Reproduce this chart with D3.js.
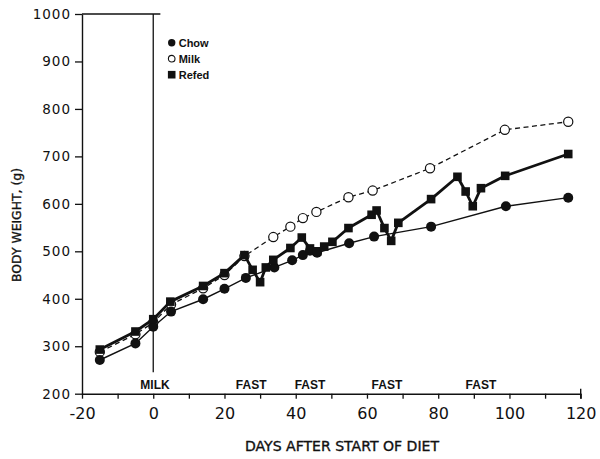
<!DOCTYPE html>
<html>
<head>
<meta charset="utf-8">
<script src="https://cdn.jsdelivr.net/npm/d3@7"></script>
<style>
  html, body { margin: 0; padding: 0; background: #fff; }
  svg { display: block; }
</style>
</head>
<body>
<svg id="chart" width="600" height="459"></svg>
<script>
// ---- data ----
const chowDays   = [-15, -5, 0, 5, 14, 20, 26, 34, 39, 42, 44, 46, 55, 62, 78, 99, 116.5];
const chowValues = [271, 306, 341, 373, 399, 421, 444, 466, 481, 492, 501, 497, 517, 531, 552, 595, 613];

const milkDays   = [-15, -5, 0, 5, 14, 20, 25.6, 33.7, 38.5, 42, 45.8, 54.8, 61.6, 77.7, 98.7, 116.5];
const milkValues = [288, 325, 350, 388, 422, 450, 490, 530, 552, 570, 583, 614, 628, 675, 756, 773];

const refedDays   = [-15, -5, 0, 4.8, 14, 20, 25.6, 27.9, 30, 31.6, 33.7, 38.5, 41.7, 44, 46, 48, 50.3, 54.8, 61.3, 62.7, 64.9, 66.8, 68.8, 78, 85.4, 87.7, 89.7, 92, 98.8, 116.5];
const refedValues = [293, 331, 357, 394, 427, 454, 492, 461, 435, 466, 482, 507, 529, 506, 500, 510, 520, 549, 577, 586, 549, 522, 560, 610, 657, 626, 595, 633, 659, 705];

const xTicks = [-20, -10, 0, 10, 20, 30, 40, 50, 60, 70, 80, 90, 100, 110, 120];
const xTickLabels = ["-20", "", "0", "", "20", "", "40", "", "60", "", "80", "", "100", "", "120"];
const yTicks = [200, 300, 400, 500, 600, 700, 800, 900, 1000];
const yTickLabels = ["200", "300", "400", "500", "600", "700", "800", "900", "1000"];

const annotationLabels = ["MILK", "FAST", "FAST", "FAST", "FAST"];
const annotationDays   = [0.5, 27.5, 44, 65.6, 92];

const legendNames = ["Chow", "Milk", "Refed"];
const xTitle = "DAYS AFTER START OF DIET";
const yTitle = "BODY WEIGHT, (g)";

// ---- drawing ----
const ink = "#111";
const svg = d3.select("#chart");
svg.append("rect").attr("width", 600).attr("height", 459).attr("fill", "#fff");

const x = d3.scaleLinear().domain([-20, 120]).range([82, 580.7]);
const y = d3.scaleLinear().domain([200, 1000]).range([393.7, 14]);

// x axis
const xAxis = d3.axisBottom(x)
  .tickValues(xTicks)
  .tickSize(5)
  .tickSizeOuter(0)
  .tickPadding(9)
  .tickFormat((d, i) => xTickLabels[i]);
const gx = svg.append("g").attr("transform", `translate(0,${y(200)})`).call(xAxis);
gx.select(".domain").attr("stroke", ink).attr("stroke-width", 1.4);
gx.selectAll(".tick line").attr("stroke", ink).attr("stroke-width", 1.3);
gx.selectAll(".tick text")
  .attr("fill", ink)
  .style("font-family", "'DejaVu Sans', sans-serif")
  .style("font-size", "16px");
// end tick crossing at 120
svg.append("line")
  .attr("x1", x(120)).attr("x2", x(120))
  .attr("y1", y(200) - 5).attr("y2", y(200) + 5)
  .attr("stroke", ink).attr("stroke-width", 1.4);

// y axis
const yAxis = d3.axisLeft(y)
  .tickValues(yTicks)
  .tickSize(7)
  .tickSizeOuter(0)
  .tickPadding(4)
  .tickFormat((d, i) => yTickLabels[i]);
const gy = svg.append("g").attr("transform", `translate(${x(-20)},0)`).call(yAxis);
gy.select(".domain").attr("stroke", ink).attr("stroke-width", 1.4);
gy.selectAll(".tick line").attr("stroke", ink).attr("stroke-width", 1.3);
gy.selectAll(".tick text")
  .attr("fill", ink)
  .style("font-family", "'DejaVu Sans', sans-serif")
  .style("font-size", "13.5px")
  .style("letter-spacing", "1px");

// top frame line and start-of-diet line
svg.append("line")
  .attr("x1", x(-20)).attr("x2", x(2))
  .attr("y1", y(1000)).attr("y2", y(1000))
  .attr("stroke", ink).attr("stroke-width", 1.4);
svg.append("line")
  .attr("x1", x(0)).attr("x2", x(0))
  .attr("y1", y(1000)).attr("y2", y(245))
  .attr("stroke", ink).attr("stroke-width", 1.3);

// axis titles
svg.append("text")
  .attr("x", 342).attr("y", 451)
  .attr("text-anchor", "middle")
  .attr("textLength", 194).attr("lengthAdjust", "spacingAndGlyphs")
  .style("font-family", "'DejaVu Sans', sans-serif")
  .style("font-size", "13.5px")
  .attr("fill", ink).attr("stroke", ink).attr("stroke-width", 0.35)
  .text(xTitle);
svg.append("text")
  .attr("transform", "translate(21,225) rotate(-90)")
  .attr("text-anchor", "middle")
  .attr("textLength", 114).attr("lengthAdjust", "spacingAndGlyphs")
  .style("font-family", "'DejaVu Sans', sans-serif")
  .style("font-size", "12.5px")
  .attr("fill", ink).attr("stroke", ink).attr("stroke-width", 0.35)
  .text(yTitle);

// annotations
svg.selectAll("text.annot")
  .data(annotationLabels)
  .join("text")
  .attr("class", "annot")
  .attr("x", (d, i) => x(annotationDays[i]))
  .attr("y", 388.5)
  .attr("text-anchor", "middle")
  .style("font-family", "'Liberation Sans', Arial, sans-serif")
  .style("font-size", "12px")
  .style("font-weight", "bold")
  .attr("fill", ink)
  .text(d => d);

// series
const toPts = (days, vals) => days.map((d, i) => [d, vals[i]]);
const line = d3.line().x(d => x(d[0])).y(d => y(d[1]));

const milk = toPts(milkDays, milkValues);
const chow = toPts(chowDays, chowValues);
const refed = toPts(refedDays, refedValues);

svg.append("path").datum(milk)
  .attr("d", line).attr("fill", "none")
  .attr("stroke", ink).attr("stroke-width", 1.3)
  .attr("stroke-dasharray", "5,3.5");

svg.append("path").datum(chow)
  .attr("d", line).attr("fill", "none")
  .attr("stroke", ink).attr("stroke-width", 1.4);

svg.selectAll("circle.milk").data(milk).join("circle")
  .attr("class", "milk")
  .attr("cx", d => x(d[0])).attr("cy", d => y(d[1]))
  .attr("r", 4.6).attr("fill", "#fff").attr("stroke", ink).attr("stroke-width", 1.2);

svg.selectAll("circle.chow").data(chow).join("circle")
  .attr("class", "chow")
  .attr("cx", d => x(d[0])).attr("cy", d => y(d[1]))
  .attr("r", 5).attr("fill", ink);

svg.append("path").datum(refed)
  .attr("d", line).attr("fill", "none")
  .attr("stroke", ink).attr("stroke-width", 2.8)
  .attr("stroke-linejoin", "round");

svg.selectAll("rect.refed").data(refed).join("rect")
  .attr("class", "refed")
  .attr("x", d => x(d[0]) - 4.3).attr("y", d => y(d[1]) - 4.3)
  .attr("width", 8.6).attr("height", 8.6).attr("fill", ink);

// legend
const lg = svg.append("g").attr("transform", "translate(171.7,42.7)");
legendNames.forEach((name, i) => {
  const gy0 = i * 16;
  if (i === 0) lg.append("circle").attr("cx", 0).attr("cy", gy0).attr("r", 3.7).attr("fill", ink);
  if (i === 1) lg.append("circle").attr("cx", 0).attr("cy", gy0).attr("r", 3.3).attr("fill", "#fff").attr("stroke", ink).attr("stroke-width", 1.1);
  if (i === 2) lg.append("rect").attr("x", -3.8).attr("y", gy0 - 3.8).attr("width", 7.6).attr("height", 7.6).attr("fill", ink);
  lg.append("text")
    .attr("x", 7).attr("y", gy0 + 4)
    .style("font-family", "'Liberation Sans', Arial, sans-serif")
    .style("font-size", "11px")
    .style("font-weight", "bold")
    .attr("fill", ink)
    .text(name);
});
</script>
</body>
</html>
